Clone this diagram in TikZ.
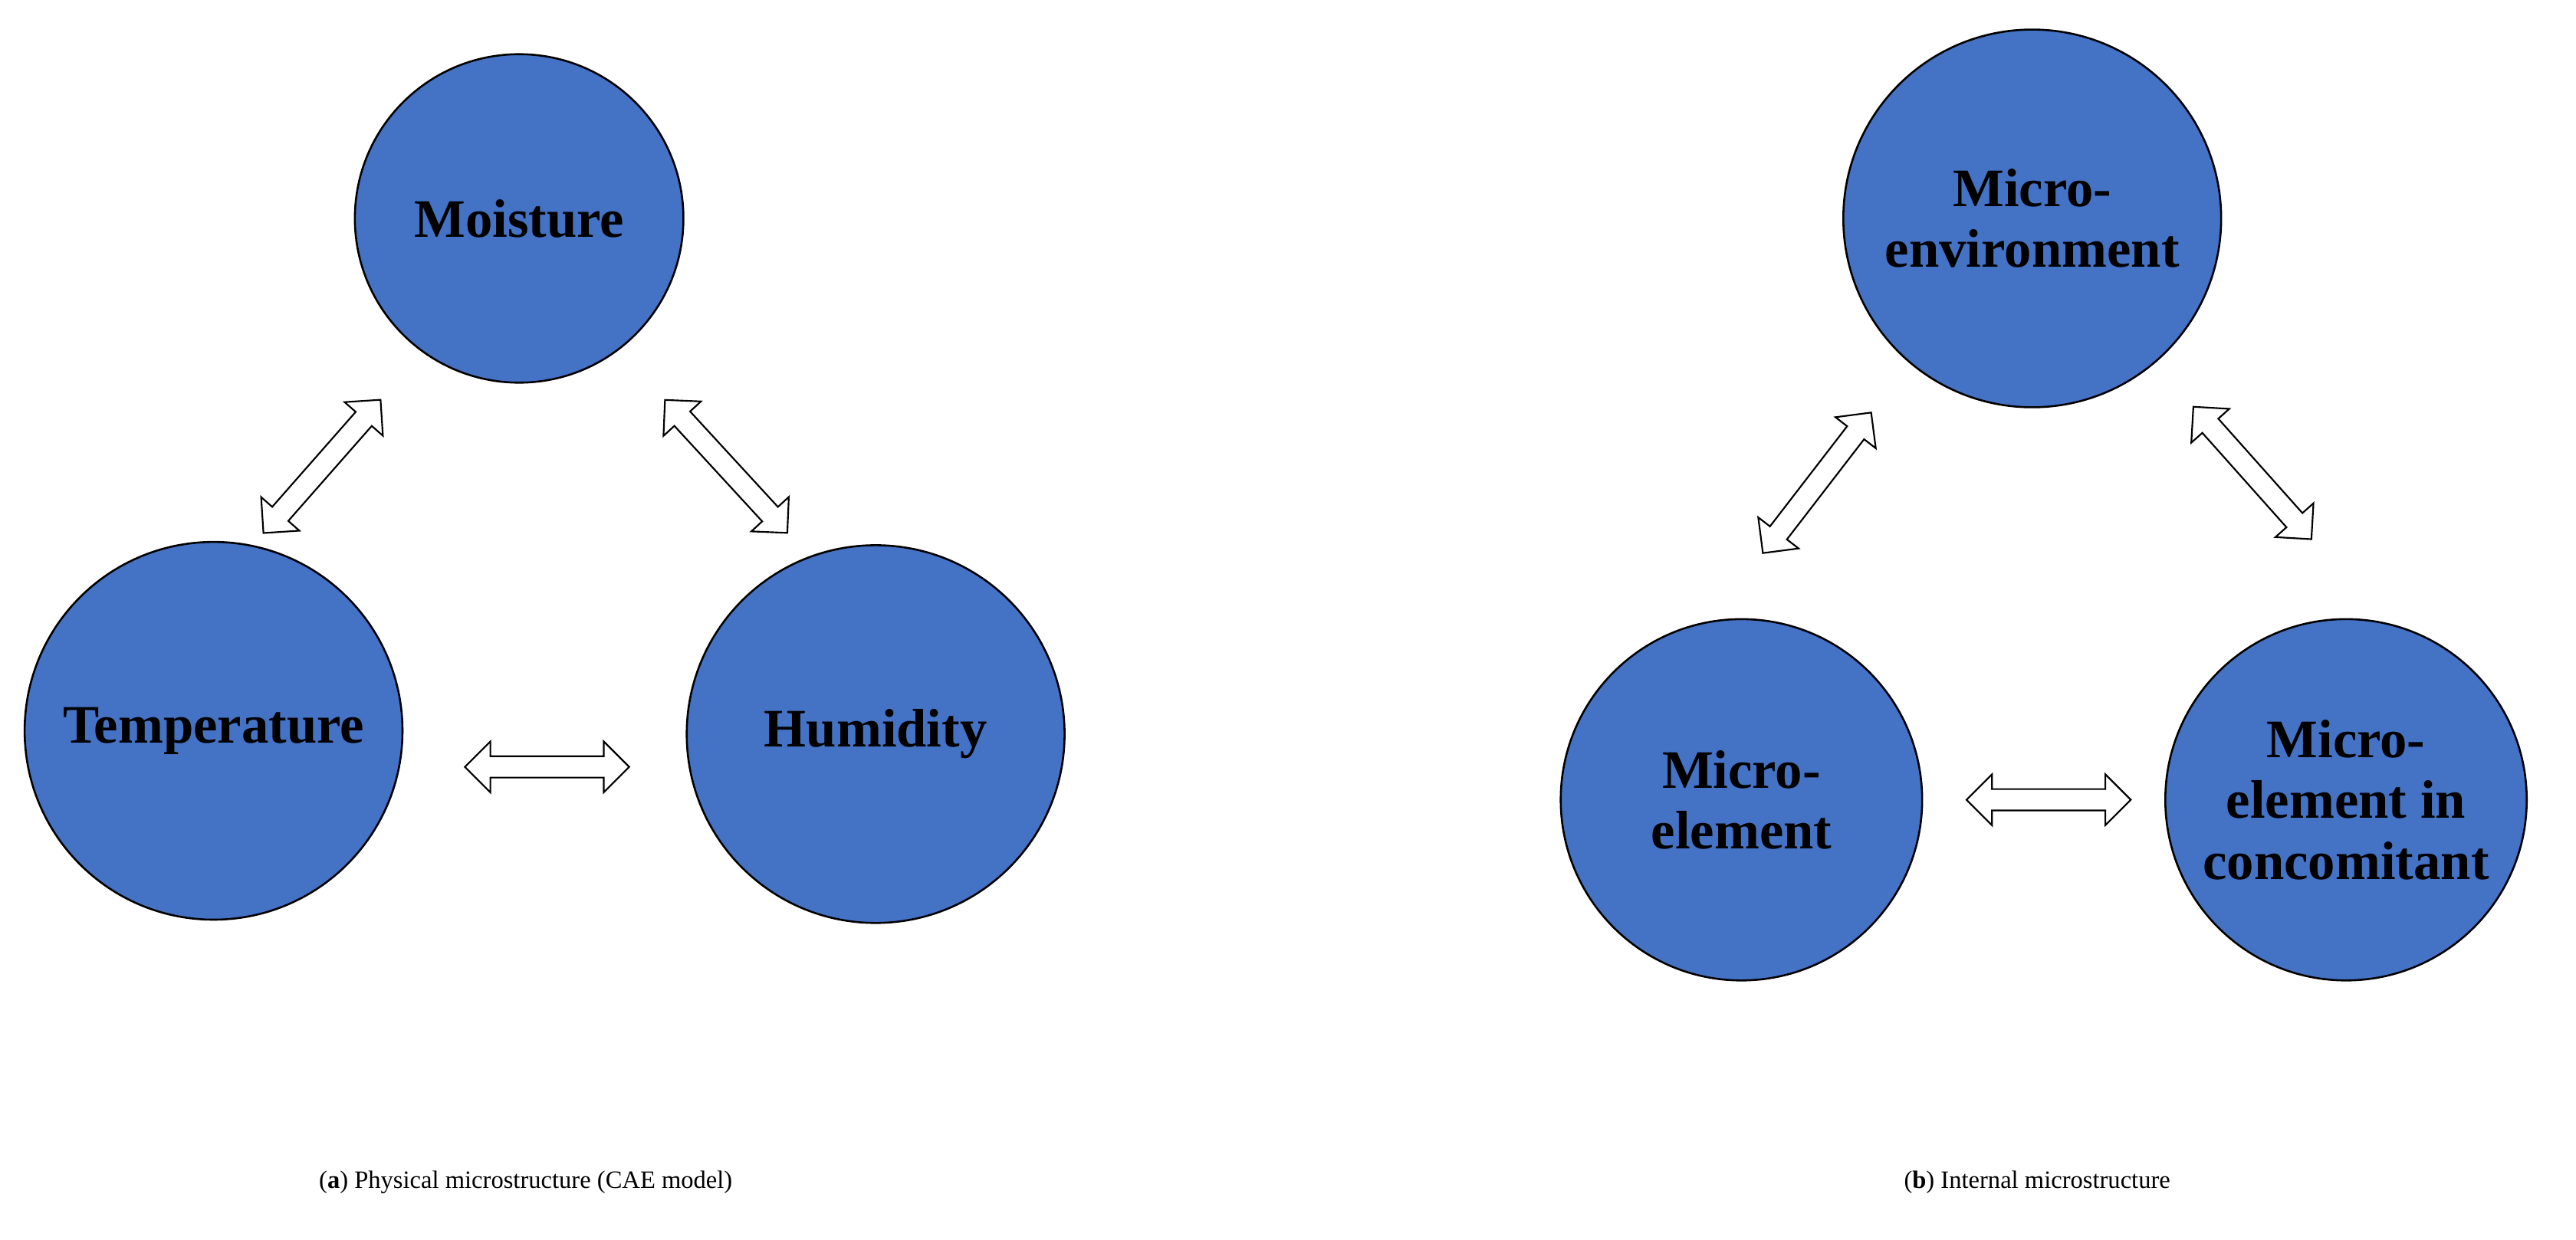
\documentclass[tikz,border=0pt]{standalone}
\usepackage{fontspec}
\setmainfont{Liberation Serif}
\usetikzlibrary{shapes.arrows}
\definecolor{cblue}{RGB}{68,114,196}
\begin{document}
\begin{tikzpicture}[x=0.5pt,y=-0.5pt,
 circ/.style={circle,draw=black,line width=0.6pt,fill=cblue,align=center,font=\fontsize{16.5}{18.5}\selectfont\bfseries,inner sep=0pt},
 darr/.style={double arrow,draw=black,fill=white,line width=0.5pt,double arrow head extend=4.5pt,double arrow head indent=0pt,minimum height=#1,inner xsep=0pt,inner ysep=3pt},
 captxt/.style={font=\fontsize{7.6}{9}\selectfont}]
\useasboundingbox (0,0) rectangle (1568,755);
\node[circ,minimum size=100pt] (moist) at (316,133) {Moisture};
\node[circ,minimum size=115pt] (temp) at (130,445) {Temperature};
\node[circ,minimum size=115pt] (hum) at (533,447) {Humidity};
\node[circ,minimum size=115pt] (menv) at (1237,133) {Micro-\\environment};
\node[circ,minimum size=110pt] (mel) at (1060,487) {Micro-\\element};
\node[circ,minimum size=110pt] (mcon) at (1428,487) {Micro-\\element in\\concomitant};
\node[darr=54pt,rotate=48.7] (a1) at (196,284) {};
\node[darr=55pt,rotate=-47.4] (a2) at (442,284) {};
\node[darr=50pt] (a3) at (333,467) {};
\node[darr=54pt,rotate=52.4] (b1) at (1106,294) {};
\node[darr=54pt,rotate=-48.3] (b2) at (1371,288) {};
\node[darr=50pt] (b3) at (1247,487) {};
\node[captxt] (ca) at (320,720) {(\textbf{a}) Physical microstructure (CAE model)};
\node[captxt] (cb) at (1240,720) {(\textbf{b}) Internal microstructure};
\end{tikzpicture}
\end{document}
